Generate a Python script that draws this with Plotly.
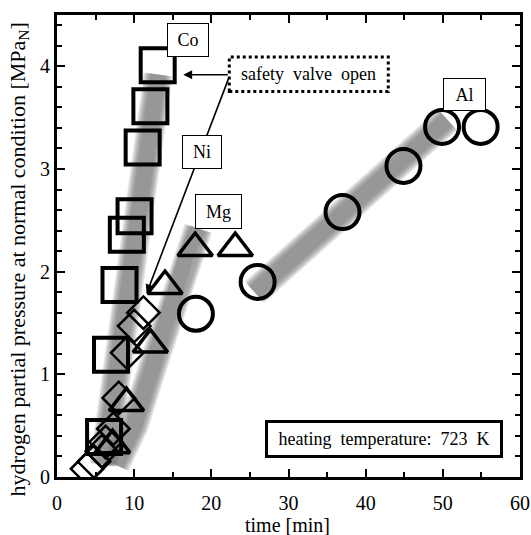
import plotly.graph_objects as go

# ---- data ----
co_time = [6.1, 7.0, 8.1, 9.05, 10.05, 11.1, 12.1, 13.05]
co_pressure = [0.39, 1.19, 1.87, 2.36, 2.54, 3.21, 3.61, 4.01]

ni_time = [3.9, 4.8, 5.8, 6.3, 7.3, 8.0, 9.1, 10.0, 11.2]
ni_pressure = [0.08, 0.15, 0.25, 0.34, 0.47, 0.77, 1.21, 1.47, 1.60]

mg_time = [7.2, 9.0, 12.1, 14.0, 17.9, 23.1]
mg_pressure = [0.31, 0.72, 1.29, 1.86, 2.23, 2.23]

al_time = [18.0, 26.0, 37.0, 44.9, 49.9, 54.9]
al_pressure = [1.59, 1.90, 2.58, 3.03, 3.41, 3.41]

# gray trend bands
co_band_time = [6.1, 13.1]
co_band_pressure = [0.12, 3.92]
nimg_band_time = [7.6, 10.0, 12.3, 14.2, 16.8, 18.3]
nimg_band_pressure = [0.12, 0.50, 1.05, 1.53, 2.18, 2.42]
al_band_time = [25.6, 50.6]
al_band_pressure = [1.80, 3.48]

FONT = "Liberation Serif"

fig = go.Figure()

# blurred gray bands built from layered translucent lines
for bx, by in [(co_band_time, co_band_pressure),
               (nimg_band_time, nimg_band_pressure),
               (al_band_time, al_band_pressure)]:
    for w in [29, 27, 25, 23, 21, 19, 17, 15]:
        fig.add_trace(go.Scatter(x=bx, y=by, mode="lines",
                                 line=dict(color="rgba(115,115,115,0.15)", width=w),
                                 hoverinfo="skip", showlegend=False))

def add_series(x, y, symbol, size, lw):
    fig.add_trace(go.Scatter(x=x, y=y, mode="markers",
                             marker=dict(symbol=symbol, size=size, color="black",
                                         line=dict(width=lw, color="black")),
                             showlegend=False))

add_series(ni_time, ni_pressure, "diamond-open", 25, 2.5)
add_series(mg_time, mg_pressure, "triangle-up-open", 30, 3.5)
add_series(co_time, co_pressure, "square-open", 34, 4)
add_series(al_time, al_pressure, "circle-open", 34, 4)

# dotted "safety valve open" box
fig.add_shape(type="rect", x0=22.33, x1=42.93, y0=3.755, y1=4.091,
              line=dict(color="black", width=3, dash="dot"),
              fillcolor="white", layer="above")

annotations = []
# arrows from the safety-valve box
annotations.append(dict(x=16.37, y=3.918, ax=22.33, ay=3.918, axref="x", ayref="y",
                        xref="x", yref="y", text="", showarrow=True,
                        arrowhead=2, arrowsize=1.1, arrowwidth=1.6, arrowcolor="black"))
annotations.append(dict(x=11.62, y=1.79, ax=22.33, ay=3.90, axref="x", ayref="y",
                        xref="x", yref="y", text="", showarrow=True,
                        arrowhead=2, arrowsize=1.1, arrowwidth=1.6, arrowcolor="black"))

def label(text, x, y, w, h, bw=1, size=18):
    annotations.append(dict(x=x, y=y, xref="x", yref="y", text=text, showarrow=False,
                            width=w, height=h, bgcolor="white", bordercolor="black",
                            borderwidth=bw, borderpad=0, xanchor="center", yanchor="middle",
                            font=dict(family=FONT, size=size, color="black")))

label("Co", 17.04, 4.255, 40, 32)
label("Ni", 18.8, 3.17, 38, 32)
label("Mg", 20.95, 2.59, 45, 33)
label("Al", 52.8, 3.73, 41, 31)
label("heating  temperature:  723  K", 42.4, 0.368, 232, 32, bw=3, size=18)
annotations.append(dict(x=32.63, y=3.923, xref="x", yref="y", text="safety  valve  open",
                        showarrow=False, font=dict(family=FONT, size=18, color="black")))

# axis titles placed as text
annotations.append(dict(x=-0.083, y=0.47, xref="paper", yref="paper",
                        text="hydrogen partial pressure at normal condition [MPa<sub>N</sub>]",
                        textangle=-90, showarrow=False, xanchor="center", yanchor="middle",
                        font=dict(family=FONT, size=22, color="black")))
annotations.append(dict(x=0.498, y=-0.13, xref="paper", yref="paper",
                        text="time [min]", showarrow=False, xanchor="center", yanchor="bottom",
                        borderpad=0, font=dict(family=FONT, size=20, color="black")))

axis_common = dict(showline=True, linecolor="black", linewidth=3, mirror="ticks",
                   ticks="inside", ticklen=8, tickwidth=2, tickcolor="black",
                   showgrid=False, zeroline=False, automargin=False,
                   tickfont=dict(family=FONT, size=20, color="black"))

fig.update_layout(
    width=531, height=535,
    margin=dict(l=57, r=11, t=15, b=58),
    paper_bgcolor="white", plot_bgcolor="white",
    font=dict(family=FONT, color="black"),
    annotations=annotations,
    xaxis=dict(range=[0, 60], dtick=10, tick0=0,
               minor=dict(dtick=5, ticks="inside", ticklen=5, tickwidth=2, tickcolor="black"),
               ticklabelstandoff=6,
               **axis_common),
    yaxis=dict(range=[0, 4.5], dtick=1, tick0=0,
               minor=dict(dtick=0.2, ticks="inside", ticklen=5, tickwidth=2, tickcolor="black"),
               **axis_common),
)

fig.write_html("out.html")
